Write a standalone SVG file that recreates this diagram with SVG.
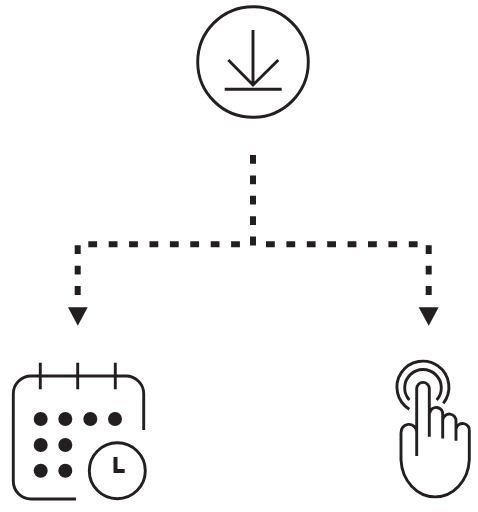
<svg xmlns="http://www.w3.org/2000/svg" width="478" height="512" viewBox="0 0 478 512">
<defs>
<style>
.s{fill:none;stroke:#231f20;stroke-width:2.9}
.d{fill:#231f20}
.c{fill:none;stroke:#231f20;stroke-width:6;stroke-dasharray:8.8 11.6}
</style>
</defs>
<rect width="478" height="512" fill="#fff"/>
<g id="download">
<circle class="s" cx="253" cy="62" r="55.3"/>
<path class="s" d="M253 30V85M228.3 60L253 85L278.3 60M224.7 89.3H281.7"/>
</g>
<g id="connectors">
<path class="c" d="M253 155V247"/>
<path class="c" d="M88.3 244.3H250"/>
<path class="c" d="M266 244.3H420"/>
<path class="c" d="M77.7 245.3V296"/>
<path class="c" d="M428.7 245.3V296"/>
<polygon class="d" points="68,307.3 87.7,307.3 77.8,325.7"/>
<polygon class="d" points="418.7,307.3 438.7,307.3 428.7,325.7"/>
</g>
<g id="calendar">
<path class="s" d="M76 499H31A17.700 17.700 0 0 1 13.300 481.300V393.700A17.700 17.700 0 0 1 31 376H126A17.700 17.700 0 0 1 143.700 393.700V430M40.300 362.700V389.300M77.700 362.700V389.300M115.300 362.700V389.300"/>
<circle class="d" cx="40.700" cy="419" r="7"/><circle class="d" cx="65.300" cy="419" r="7"/><circle class="d" cx="90.300" cy="419" r="7"/><circle class="d" cx="115" cy="419" r="7"/>
<circle class="d" cx="40.700" cy="445" r="7"/><circle class="d" cx="65.300" cy="445" r="7"/>
<circle class="d" cx="40.700" cy="470.700" r="7"/><circle class="d" cx="65.300" cy="470.700" r="7"/>
<circle class="s" cx="117.300" cy="470.700" r="28"/>
<path d="M115.500 457V471H124.700" fill="none" stroke="#231f20" stroke-width="4"/>
</g>
<g id="hand">
<path class="s" d="M409.300 409.300A26 26 0 1 1 443.300 403.300M409.300 400A18.300 18.300 0 1 1 436.700 400"/>
<path class="s" d="M416.700 456V388.700A6.300 6.300 0 0 1 429.300 388.700V436.700M429.800 413A6.500 6.500 0 0 1 442.700 414.800V438.500M442.700 420A6.600 6.600 0 0 1 456 421.500V440.700M456 429A6.700 6.700 0 0 1 469.300 431.500V460A34.200 39 0 0 1 401 460V433A7.400 7.400 0 0 1 416.700 431.500"/>
</g>
</svg>
